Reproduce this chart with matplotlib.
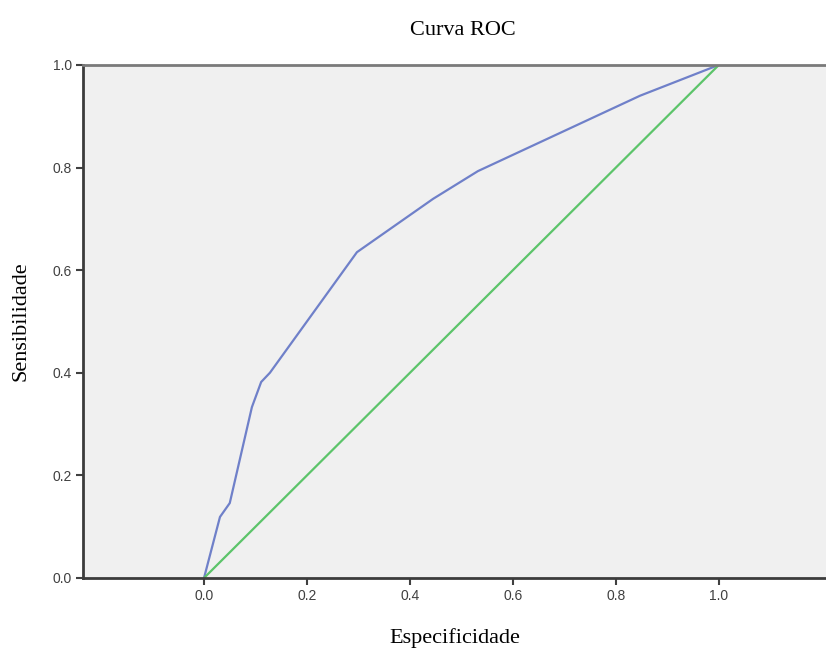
import matplotlib
matplotlib.use("Agg")
import matplotlib.pyplot as plt

# ROC curve (1 - specificity, sensitivity)
fpr = [0.0, 0.031, 0.050, 0.093, 0.111, 0.128, 0.297, 0.445, 0.532, 0.847, 1.0]
tpr = [0.0, 0.119, 0.146, 0.333, 0.382, 0.400, 0.635, 0.739, 0.793, 0.940, 1.0]
ref_x = [0.0, 1.0]
ref_y = [0.0, 1.0]
ticks = [0.0, 0.2, 0.4, 0.6, 0.8, 1.0]

fig = plt.figure(figsize=(8.26, 6.49), dpi=100)
ax = fig.add_axes([0.1005, 0.1094, 0.8995, 0.7906])
ax.set_facecolor("#f0f0f0")

ax.plot(fpr, tpr, color="#6f80c9", linewidth=1.6)
ax.plot(ref_x, ref_y, color="#5cc46a", linewidth=1.6)

ax.set_xlim(-0.235, 1.208)
ax.set_ylim(0, 1)
ax.set_xticks(ticks)
ax.set_yticks(ticks)
ax.set_xticklabels([f"{t:.1f}" for t in ticks])
ax.set_yticklabels([f"{t:.1f}" for t in ticks])

for t in ax.get_xticklabels() + ax.get_yticklabels():
    t.set_family("Liberation Sans")
    t.set_fontsize(10)
    t.set_color("#404040")
ax.tick_params(length=5, width=1.5, color="#404040", pad=3)

ax.spines["right"].set_visible(False)
ax.spines["left"].set_linewidth(2)
ax.spines["bottom"].set_linewidth(2)
ax.spines["left"].set_color("#3c3c3c")
ax.spines["bottom"].set_color("#3c3c3c")
ax.spines["top"].set_linewidth(2)
ax.spines["top"].set_color("#7a7a7a")

fig.text(0.5605, 0.953, "Curva ROC", ha="center", va="center",
         family="Liberation Serif", fontsize=16)
ax.set_xlabel("Especificidade", family="Liberation Serif", fontsize=16, labelpad=18)
ax.set_ylabel("Sensibilidade", family="Liberation Serif", fontsize=16, labelpad=16)

fig.savefig("out.png", dpi=100)
